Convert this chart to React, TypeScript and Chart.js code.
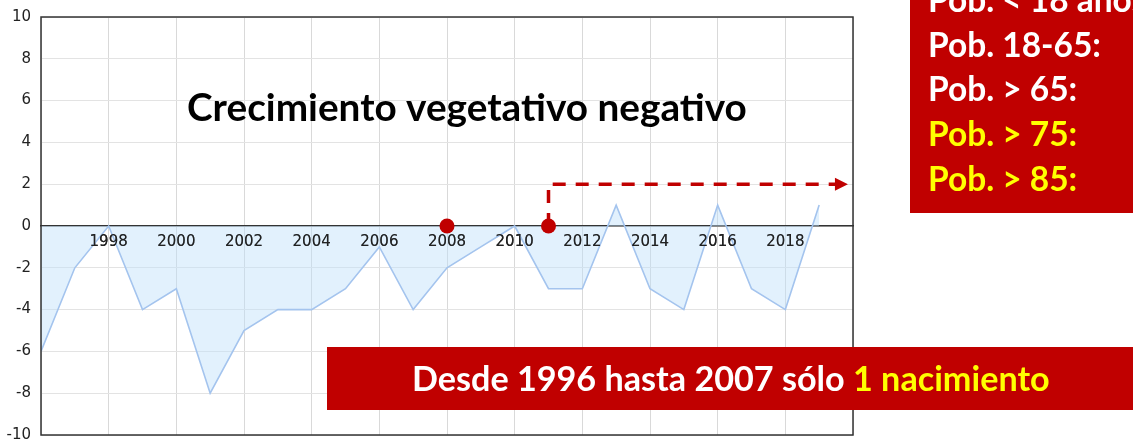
import React, { useEffect, useRef } from 'react';
import { Chart, registerables } from 'chart.js';

Chart.register(...registerables);

// ---- data ----
const years = [1996, 1997, 1998, 1999, 2000, 2001, 2002, 2003, 2004, 2005, 2006, 2007, 2008, 2009, 2010, 2011, 2012, 2013, 2014, 2015, 2016, 2017, 2018, 2019];
const values = [-6, -2, 0, -4, -3, -8, -5, -4, -4, -3, -1, -4, -2, -1, 0, -3, -3, 1, -3, -4, 1, -3, -4, 1];
const markerYears = [2008, 2011];
const markerValues = [0, 0];
const xTickLabels = ['1998', '2000', '2002', '2004', '2006', '2008', '2010', '2012', '2014', '2016', '2018'];
const yTickValues = [-10, -8, -6, -4, -2, 0, 2, 4, 6, 8, 10];

const titleText = 'Crecimiento vegetativo negativo';
const boxLines = ['Pob. < 18 años:', 'Pob. 18-65:', 'Pob. > 65:', 'Pob. > 75:', 'Pob. > 85:'];
const boxLineColors = ['#ffffff', '#ffffff', '#ffffff', '#ffff00', '#ffff00'];
const bottomParts = ['Desde 1996 hasta 2007 sólo ', '1 nacimiento'];
const bottomColors = ['#ffffff', '#ffff00'];
const watermarkText = 'FORO-CIUDAD.COM';

// arrow annotation (data space)
const arrowStartYear = 2011;
const arrowLevel = 2;
const arrowEndYear = 2019.85;

const RED = '#c00000';
const FONT = 'Lato, "Open Sans", sans-serif';

function fitSize(ctx: CanvasRenderingContext2D, text: string, width: number) {
  ctx.font = `bold 100px ${FONT}`;
  const w = ctx.measureText(text).width;
  return (100 * width) / w;
}

const overlayPlugin = {
  id: 'overlay',
  afterDatasetsDraw(chart: any) {
    // redraw x tick labels on top of the filled area
    const xs = chart.scales.x;
    if (xs && typeof xs.drawLabels === 'function') {
      chart.ctx.save();
      xs.drawLabels(chart.chartArea);
      chart.ctx.restore();
    }
  },
  afterDraw(chart: any) {
    const ctx: CanvasRenderingContext2D = chart.ctx;
    const { left, top, right, bottom } = chart.chartArea;
    const xs = chart.scales.x;
    const ys = chart.scales.y;
    ctx.save();

    // plot frame
    ctx.strokeStyle = '#333';
    ctx.lineWidth = 1.5;
    ctx.strokeRect(left, top, right - left, bottom - top);

    // dashed arrow
    const x0 = xs.getPixelForValue(arrowStartYear);
    const y0 = ys.getPixelForValue(0);
    const yA = ys.getPixelForValue(arrowLevel);
    const xE = xs.getPixelForValue(arrowEndYear);
    ctx.strokeStyle = RED;
    ctx.lineWidth = 3.5;
    ctx.setLineDash([13, 10]);
    ctx.beginPath();
    ctx.moveTo(x0, y0);
    ctx.lineTo(x0, yA);
    ctx.lineTo(xE - 12, yA);
    ctx.stroke();
    ctx.setLineDash([]);
    ctx.fillStyle = RED;
    ctx.beginPath();
    ctx.moveTo(xE, yA);
    ctx.lineTo(xE - 13, yA - 6.5);
    ctx.lineTo(xE - 13, yA + 6.5);
    ctx.closePath();
    ctx.fill();

    // title
    const ts = fitSize(ctx, titleText, 560);
    ctx.font = `bold ${ts}px ${FONT}`;
    ctx.fillStyle = '#000';
    ctx.textBaseline = 'alphabetic';
    ctx.textAlign = 'left';
    ctx.fillText(titleText, 187, 121);

    // top-right box
    ctx.fillStyle = RED;
    ctx.fillRect(910, 0, 223, 213);
    const bs = fitSize(ctx, boxLines[1], 173);
    ctx.font = `bold ${bs}px ${FONT}`;
    const baselines = [12, 57, 101, 146, 191];
    boxLines.forEach((t, i) => {
      ctx.fillStyle = boxLineColors[i];
      ctx.fillText(t, 928, baselines[i]);
    });

    // bottom box
    ctx.fillStyle = RED;
    ctx.fillRect(327, 347, 806, 63);
    const full = bottomParts.join('');
    const fs = fitSize(ctx, full, 638);
    ctx.font = `bold ${fs}px ${FONT}`;
    let x = 412;
    bottomParts.forEach((t, i) => {
      ctx.fillStyle = bottomColors[i];
      ctx.fillText(t, x, 391);
      x += ctx.measureText(t).width;
    });

    // very faint watermark
    const wsz = fitSize(ctx, watermarkText, 520);
    ctx.font = `bold ${wsz}px ${FONT}`;
    ctx.fillStyle = 'rgba(215,222,245,0.25)';
    ctx.textBaseline = 'top';
    ctx.fillText(watermarkText, 163, 440);

    ctx.restore();
  },
};

export default function App() {
  const ref = useRef<HTMLCanvasElement | null>(null);

  useEffect(() => {
    if (!ref.current) return;
    const chart = new Chart(ref.current, {
      type: 'line',
      data: {
        datasets: [
          {
            type: 'scatter',
            data: markerYears.map((y, i) => ({ x: y, y: markerValues[i] })),
            pointRadius: 7.5,
            pointBackgroundColor: RED,
            pointBorderWidth: 0,
            showLine: false,
            order: 0,
          } as any,
          {
            data: years.map((y, i) => ({ x: y, y: values[i] })),
            borderColor: '#a4c4ee',
            borderWidth: 1.6,
            backgroundColor: 'rgba(190,225,250,0.45)',
            fill: 'origin',
            pointRadius: 0,
            tension: 0,
            order: 1,
          },
        ],
      },
      options: {
        responsive: false,
        maintainAspectRatio: false,
        animation: false,
        devicePixelRatio: 1,
        layout: { padding: { left: 0, top: 17, right: 280, bottom: 10 } },
        plugins: { legend: { display: false }, tooltip: { enabled: false } },
        scales: {
          x: {
            type: 'linear',
            position: { y: 0 } as any,
            min: 1996,
            max: 2020,
            grid: { color: '#d9d9d9', lineWidth: 1, drawTicks: false },
            border: { color: '#333', width: 1.5 },
            ticks: {
              stepSize: 2,
              padding: 7,
              color: '#222',
              font: { family: '"DejaVu Sans"', size: 15 },
              callback: (v: any) => (xTickLabels.includes(String(v)) ? String(v) : ''),
              maxRotation: 0,
              autoSkip: false,
            },
          },
          y: {
            type: 'linear',
            min: -10,
            max: 10,
            afterFit: (s: any) => {
              s.width = 41;
              s.paddingTop = 0;
              s.paddingBottom = 0;
            },
            afterBuildTicks: (s: any) => {
              s.ticks = yTickValues.map((v) => ({ value: v }));
            },
            grid: { color: '#e3e3e3', lineWidth: 1, drawTicks: false },
            border: { display: false },
            ticks: {
              padding: 10,
              color: '#222',
              font: { family: '"DejaVu Sans"', size: 15 },
              callback: (v: any) => String(v),
            },
          },
        },
      },
      plugins: [overlayPlugin],
    });
    return () => chart.destroy();
  }, []);

  return (
    <div style={{ position: 'absolute', left: 0, top: 0, width: 1133, height: 445, background: '#fff' }}>
      <canvas ref={ref} width={1133} height={445} />
    </div>
  );
}
